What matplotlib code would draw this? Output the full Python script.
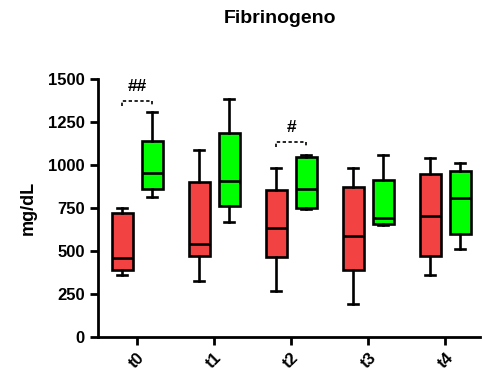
import numpy as np
import matplotlib.pyplot as plt

plt.rcParams['font.family'] = ['Liberation Sans', 'DejaVu Sans']

times = ['t0', 't1', 't2', 't3', 't4']
# whisker low, Q1, median, Q3, whisker high (mg/dL)
red_low = [360, 326, 266, 189, 360]
red_q1 = [389, 472, 463, 389, 472]
red_med = [457, 538, 635, 589, 705]
red_q3 = [723, 903, 855, 871, 946]
red_high = [752, 1088, 985, 985, 1043]

green_low = [816, 668, 742, 653, 509]
green_q1 = [861, 763, 752, 657, 600]
green_med = [956, 907, 863, 694, 810]
green_q3 = [1142, 1185, 1049, 913, 966]
green_high = [1311, 1385, 1059, 1059, 1014]

# significance marks: (category index, bracket level, label)
sig_pos = [0, 2]
sig_level = [1375, 1136]
sig_text = ['##', '#']


def make_stats(lo, q1, med, q3, hi):
    return [dict(whislo=a, q1=b, med=c, q3=d, whishi=e, fliers=[])
            for a, b, c, d, e in zip(lo, q1, med, q3, hi)]


fig = plt.figure(figsize=(4.82, 3.74), dpi=100)
ax = fig.add_axes([0.203, 0.0997, 0.793, 0.688])

x = np.arange(len(times))
off = 0.195
w = 0.27
lw = 1.9
common = dict(widths=w, patch_artist=True, showfliers=False,
              boxprops=dict(edgecolor='black', linewidth=lw),
              medianprops=dict(color='black', linewidth=lw),
              whiskerprops=dict(color='black', linewidth=lw),
              capprops=dict(color='black', linewidth=lw))

b1 = ax.bxp(make_stats(red_low, red_q1, red_med, red_q3, red_high),
            positions=x - off, capwidths=0.13, **common)
b2 = ax.bxp(make_stats(green_low, green_q1, green_med, green_q3, green_high),
            positions=x + off, capwidths=0.13, **common)
for p in b1['boxes']:
    p.set_facecolor('#F24242')
for p in b2['boxes']:
    p.set_facecolor('#00FF00')

for i, lev, t in zip(sig_pos, sig_level, sig_text):
    ax.plot([i - off, i - off, i + off, i + off], [lev - 30, lev, lev, lev - 30],
            color='black', linestyle=(0, (2, 1.5)), linewidth=1.2)
    ax.text(i, lev + 40, t, ha='center', va='bottom', fontsize=12.5,
            fontweight='bold')

ax.set_xlim(-0.51, 4.45)
ax.set_ylim(0, 1500)
ax.set_yticks(np.arange(0, 1501, 250))
ax.set_xticks(x)
ax.set_xticklabels(times, rotation=45, ha='right', rotation_mode='anchor',
                   fontsize=12, fontweight='bold')
for lab in ax.get_yticklabels():
    lab.set_fontsize(12)
    lab.set_fontweight('bold')
ax.spines['top'].set_visible(False)
ax.spines['right'].set_visible(False)
ax.spines['left'].set_linewidth(2)
ax.spines['bottom'].set_linewidth(2)
ax.tick_params(width=2, length=6)
ax.set_ylabel('mg/dL', fontsize=13, fontweight='bold', labelpad=8)
fig.text(0.58, 0.95, 'Fibrinogeno', ha='center', va='center',
         fontsize=14, fontweight='bold')

plt.savefig('out.png', dpi=100)
